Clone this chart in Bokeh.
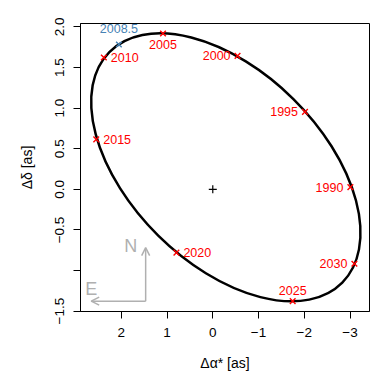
from bokeh.plotting import figure
from bokeh.models import Range1d, FixedTicker, Arrow, OpenHead
from bokeh.embed import file_html
from bokeh.resources import INLINE
from bokeh.core.properties import value

# ---- data ----
years = ["1990", "1995", "2000", "2005", "2010", "2015", "2020", "2025", "2030"]
ra = [-3.007, -2.015, -0.541, 1.088, 2.381, 2.547, 0.795, -1.746, -3.095]
dec = [0.028, 0.953, 1.643, 1.919, 1.623, 0.616, -0.780, -1.377, -0.916]
label_pos = ["left", "left", "left", "below", "right", "right", "right", "above", "left"]

peri_label = ["2008.5"]
peri_ra = [2.052]
peri_dec = [1.783]

primary_ra = [0.0]
primary_dec = [0.0]

# apparent orbit (ellipse): centre, full width (x units), full height (y units), angle
orbit_ra = [-0.285]
orbit_dec = [0.271]
orbit_width = [7.162]
orbit_height = [2.366]
orbit_angle = [-44.7]

# compass
compass_ra = 1.467
compass_dec = -1.377
compass_north_dec = -0.718
compass_east_ra = 2.657

x_ticks = [2, 1, 0, -1, -2, -3]
x_tick_labels = ["2", "1", "0", "\u22121", "\u22122", "\u22123"]
y_ticks = [2.0, 1.5, 1.0, 0.5, 0.0, -0.5, -1.0, -1.5]
y_tick_labels = ["2.0", "1.5", "1.0", "0.5", "0.0", "\u22120.5", "", "\u22121.5"]

FONT = "Liberation Sans"
RED = "#ff0000"
BLUE = "#4682b4"
GREY = "#b0b0b0"

p = figure(width=388, height=382,
           x_range=Range1d(2.891, -3.425), y_range=Range1d(-1.504, 2.042),
           output_backend="svg", toolbar_location=None,
           min_border_left=80, min_border_right=19,
           min_border_top=23, min_border_bottom=71)
p.grid.visible = False
p.outline_line_color = "black"
p.outline_line_width = 1
p.background_fill_color = "white"
p.border_fill_color = "white"

p.xaxis.ticker = FixedTicker(ticks=x_ticks)
p.xaxis.major_label_overrides = {t: l for t, l in zip(x_ticks, x_tick_labels)}
p.yaxis.ticker = FixedTicker(ticks=y_ticks)
p.yaxis.major_label_overrides = {t: l for t, l in zip(y_ticks, y_tick_labels)}
p.xaxis.axis_label = "\u0394\u03b1* [as]"
p.yaxis.axis_label = "\u0394\u03b4 [as]"
for ax in (p.xaxis, p.yaxis):
    ax.major_tick_out = 7
    ax.major_tick_in = 0
    ax.minor_tick_line_color = None
    ax.axis_line_color = "black"
    ax.major_tick_line_color = "black"
    ax.major_label_text_font = FONT
    ax.major_label_text_font_size = "13.5px"
    ax.major_label_text_color = "black"
    ax.axis_label_text_font = FONT
    ax.axis_label_text_font_size = "14px"
    ax.axis_label_text_font_style = "normal"
    ax.axis_label_text_color = "black"
p.xaxis.major_label_standoff = 9
p.yaxis.major_label_standoff = 9
p.xaxis.axis_label_standoff = 15
p.yaxis.axis_label_standoff = 18
p.yaxis.major_label_orientation = "parallel"

# orbit
p.ellipse(x=orbit_ra, y=orbit_dec, width=orbit_width, height=orbit_height,
          angle=orbit_angle, angle_units="deg",
          fill_color=None, line_color="black", line_width=2.5)

# primary
p.scatter(primary_ra, primary_dec, marker="cross", size=8,
          line_color="black", line_width=1.2)

# yearly positions
p.scatter(ra, dec, marker="x", size=8, line_color=RED, line_width=1.4)
offsets = {"left": ("right", -7, 0), "right": ("left", 7, 0),
           "above": ("center", 0, -11), "below": ("center", 0, 11)}
for pos, (align, dx, dy) in offsets.items():
    idx = [i for i, lp in enumerate(label_pos) if lp == pos]
    p.text(x=[ra[i] for i in idx], y=[dec[i] for i in idx],
           text=[years[i] for i in idx],
           text_font=value(FONT), text_font_size="12.5px", text_color=RED,
           text_align=align, text_baseline="middle", x_offset=dx, y_offset=dy)

# 2008.5 marker
p.scatter(peri_ra, peri_dec, marker="x", size=8, line_color=BLUE, line_width=1.4)
p.text(x=peri_ra, y=peri_dec, text=peri_label, text_font=value(FONT),
       text_font_size="12.5px", text_color=BLUE, text_align="center",
       text_baseline="middle", y_offset=-16)

# compass
p.add_layout(Arrow(end=OpenHead(size=8, line_color=GREY, line_width=1.5),
                   x_start=compass_ra, y_start=compass_dec,
                   x_end=compass_ra, y_end=compass_north_dec,
                   line_color=GREY, line_width=1.5))
p.add_layout(Arrow(end=OpenHead(size=8, line_color=GREY, line_width=1.5),
                   x_start=compass_ra, y_start=compass_dec,
                   x_end=compass_east_ra, y_end=compass_dec,
                   line_color=GREY, line_width=1.5))
p.text(x=[compass_ra], y=[compass_north_dec], text=["N"], text_font=value(FONT),
       text_font_size="18px", text_color=GREY, text_align="center",
       text_baseline="middle", x_offset=-15, y_offset=-2)
p.text(x=[compass_east_ra], y=[compass_dec], text=["E"], text_font=value(FONT),
       text_font_size="18px", text_color=GREY, text_align="center",
       text_baseline="middle", x_offset=0, y_offset=-12)

open("out.html", "w").write(file_html(p, INLINE))
